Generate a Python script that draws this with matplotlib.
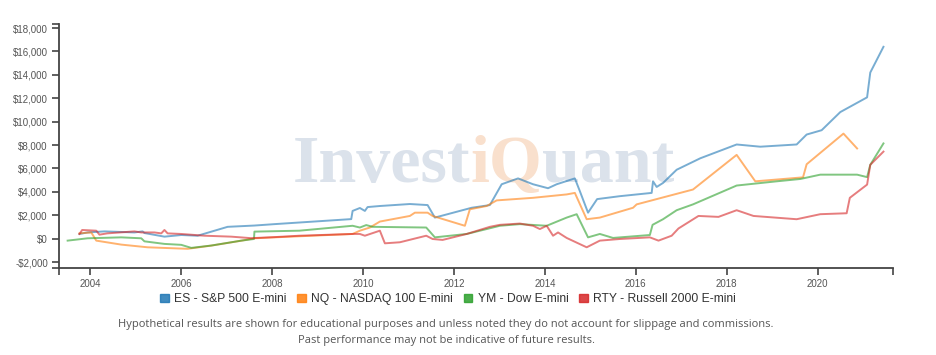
import matplotlib
matplotlib.use("Agg")
import matplotlib.pyplot as plt
import matplotlib.patches as mpatches
from matplotlib.ticker import FuncFormatter

# values (x = fractional year, y = $)
es_x = [2003.76, 2003.94, 2004.31, 2004.97, 2005.15, 2005.19, 2005.63, 2006.00, 2006.36,
        2007.02, 2007.61, 2008.05, 2008.60, 2009.74, 2009.77, 2009.93, 2010.04, 2010.10,
        2010.37, 2011.03, 2011.42, 2011.58, 2012.39, 2012.79, 2013.05, 2013.41, 2013.74,
        2014.07, 2014.26, 2014.66, 2014.77, 2014.95, 2015.15, 2015.65, 2016.35, 2016.38,
        2016.46, 2016.60, 2016.90, 2017.42, 2018.22, 2018.74, 2019.54, 2019.76, 2020.09,
        2020.50, 2021.09, 2021.16, 2021.45]
es_y = [400, 530, 620, 530, 620, 480, 170, 310, 250,
        1010, 1120, 1240, 1380, 1670, 2370, 2620, 2370, 2700,
        2790, 2960, 2870, 1800, 2640, 2870, 4650, 5150, 4650,
        4310, 4650, 5150, 4060, 2220, 3380, 3630, 3910, 4900,
        4420, 4760, 5890, 6870, 8050, 7860, 8050, 8900, 9270,
        10820, 12080, 14200, 16400]

nq_x = [2003.76, 2004.02, 2004.13, 2004.68, 2005.26, 2006.14, 2006.67, 2007.33, 2007.61,
        2008.05, 2009.77, 2009.93, 2010.15, 2010.37, 2011.03, 2011.14, 2011.42, 2011.53,
        2012.24, 2012.35, 2012.72, 2012.94, 2013.74, 2014.48, 2014.66, 2014.92, 2015.21,
        2015.94, 2016.02, 2017.26, 2018.22, 2018.63, 2019.68, 2019.76, 2020.57, 2020.87]
nq_y = [450, 530, -170, -510, -740, -870, -590, -170, 30,
        110, 400, 680, 950, 1460, 1940, 2220, 2220, 1940,
        1100, 2510, 2790, 3270, 3490, 3780, 3910, 1660, 1800,
        2640, 2930, 4200, 7160, 4900, 5240, 6360, 8980, 7710]

ym_x = [2003.50, 2003.94, 2004.68, 2005.12, 2005.19, 2005.63, 2006.00, 2006.22, 2006.66,
        2007.32, 2007.60, 2007.61, 2008.60, 2009.77, 2009.93, 2010.07, 2010.21, 2011.39,
        2011.58, 2012.28, 2012.72, 2013.01, 2013.45, 2014.04, 2014.48, 2014.70, 2014.95,
        2015.21, 2015.50, 2016.31, 2016.37, 2016.60, 2016.90, 2017.26, 2018.22, 2019.10,
        2019.62, 2020.06, 2020.87, 2021.09, 2021.16, 2021.45]
ym_y = [-170, 30, 110, 30, -230, -450, -530, -790, -590,
        -170, -30, 600, 680, 1100, 950, 1160, 1010, 950,
        110, 400, 820, 1100, 1240, 1100, 1800, 2090, 110,
        400, 60, 310, 1180, 1660, 2430, 2930, 4540, 4900,
        5100, 5470, 5470, 5260, 6310, 8140]

rty_x = [2003.76, 2003.82, 2004.13, 2004.20, 2004.37, 2004.97, 2005.12, 2005.41, 2005.56,
         2005.63, 2005.70, 2006.00, 2006.51, 2007.10, 2007.54, 2008.05, 2008.60, 2009.77,
         2009.93, 2010.04, 2010.37, 2010.48, 2010.81, 2011.39, 2011.53, 2011.75, 2012.28,
         2012.79, 2013.01, 2013.45, 2013.74, 2013.89, 2014.04, 2014.18, 2014.29, 2014.48,
         2014.92, 2015.21, 2015.65, 2016.31, 2016.50, 2016.79, 2016.94, 2017.38, 2017.82,
         2018.22, 2018.59, 2019.54, 2020.06, 2020.64, 2020.71, 2021.09, 2021.16, 2021.45]
rty_y = [400, 740, 680, 340, 450, 620, 530, 530, 450,
         740, 450, 400, 250, 170, 40, 130, 250, 400,
         400, 250, 680, -400, -310, 250, -30, -110, 400,
         1010, 1180, 1290, 1100, 820, 1100, 250, 530, 60,
         -740, -170, -30, 110, -170, 250, 870, 1940, 1860,
         2430, 1940, 1660, 2090, 2170, 3490, 4620, 6310, 7440]

series_names = ["ES - S&P 500 E-mini", "NQ - NASDAQ 100 E-mini",
                "YM - Dow E-mini", "RTY - Russell 2000 E-mini"]
colors = ["#1f77b4", "#ff7f0e", "#2ca02c", "#d62728"]
year_ticks = [2004, 2006, 2008, 2010, 2012, 2014, 2016, 2018, 2020]
dollar_ticks = list(range(-2000, 18001, 2000))

plt.rcParams["font.family"] = ["Liberation Sans", "DejaVu Sans"]

fig = plt.figure(figsize=(9.36, 3.55), dpi=100)
ax = fig.add_axes([59 / 936, 1 - 268 / 355, 834 / 936, 244 / 355])

xmin, xmax = 2003.31, 2021.66
ymin, ymax = -2510, 18350
ax.set_xlim(xmin, xmax)
ax.set_ylim(ymin, ymax)

# watermark
wm = ax.text(2008.45, 4810, "Invest", fontsize=49, fontweight="bold",
             family="Liberation Serif", color="#dbe2eb", va="baseline", ha="left", zorder=0)
wm2 = ax.annotate("iQ", xy=(1, 0), xycoords=wm, va="bottom", ha="left",
                  fontsize=49, fontweight="bold", family="Liberation Serif",
                  color="#f9e0cd", zorder=0)
ax.annotate("uant", xy=(1, 0), xycoords=wm2, va="bottom", ha="left",
            fontsize=49, fontweight="bold", family="Liberation Serif",
            color="#dbe2eb", zorder=0)

for xs, ys, c in zip([es_x, nq_x, ym_x, rty_x], [es_y, nq_y, ym_y, rty_y], colors):
    ax.plot(xs, ys, color=c, lw=1.4, alpha=0.6, zorder=2)

for s in ["top", "right"]:
    ax.spines[s].set_visible(False)
for s in ["left", "bottom"]:
    ax.spines[s].set_color("#444444")
    ax.spines[s].set_linewidth(1.3)

ax.set_xticks(year_ticks)
ax.set_xticklabels([str(y) for y in year_ticks])
ax.set_yticks(dollar_ticks)
ax.yaxis.set_major_formatter(FuncFormatter(
    lambda v, p: "$0" if v == 0 else ("-$" if v < 0 else "$") + f"{abs(int(v)):,}"))
# d3 style outer ticks at the domain ends
ax.set_xticks([xmin, xmax], minor=True)
ax.set_yticks([ymin, ymax], minor=True)
ax.tick_params(axis="both", which="both", length=5, width=1.2, color="#444444",
               labelsize=7, labelcolor="#555555", pad=3)

handles = [mpatches.Patch(color=c, alpha=0.85) for c in colors]
fig.legend(handles, series_names, loc="center", bbox_to_anchor=(448 / 936, 1 - 299 / 355),
           ncol=4, frameon=False, fontsize=8.7, handlelength=0.7, handleheight=0.7,
           handletextpad=0.45, columnspacing=0.9, labelcolor="#333333")

fig.text(446 / 936, 1 - 325 / 355,
         "Hypothetical results are shown for educational purposes and unless noted "
         "they do not account for slippage and commissions.",
         ha="center", va="center", fontsize=8.05, family="Open Sans", color="#555555")
fig.text(446 / 936, 1 - 340 / 355, "Past performance may not be indicative of future results.",
         ha="center", va="center", fontsize=8.05, family="Open Sans", color="#555555")

fig.savefig("out.png", dpi=100)
